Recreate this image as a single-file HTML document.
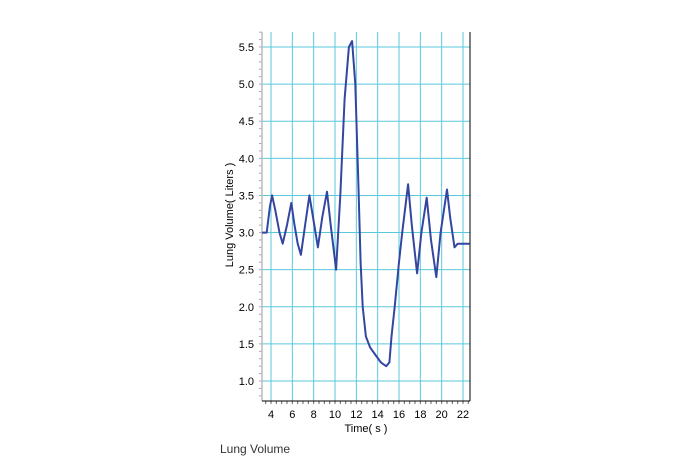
<!DOCTYPE html>
<html><head><meta charset="utf-8"><style>
html,body{margin:0;padding:0;background:#fff;}
svg{display:block;font-family:"Liberation Sans",sans-serif;}
</style></head><body>
<svg id="chart" width="690" height="460" viewBox="0 0 690 460">
<g id="grid"></g>
<g id="axes"></g>
<path id="line" fill="none" stroke="#3346a0" stroke-width="2" stroke-linejoin="round"/>
<text x="366" y="432" font-size="11" text-anchor="middle">Time( s )</text>
<text x="0" y="0" font-size="11" text-anchor="middle" transform="translate(233,215) rotate(-90)">Lung Volume( Liters )</text>
<text x="220" y="453" font-size="12" fill="#333">Lung Volume</text>
</svg>
<script>
const times=[3.16,3.6,3.9,4.1,4.4,4.8,5.1,5.5,5.9,6.2,6.5,6.8,7.2,7.6,8.0,8.4,8.8,9.25,9.6,10.1,10.5,10.9,11.3,11.6,11.9,12.2,12.4,12.6,12.9,13.3,13.8,14.3,14.8,15.1,15.3,15.6,16.0,16.3,16.85,17.2,17.7,18.1,18.6,19.0,19.5,19.9,20.5,20.8,21.2,21.5,22.65];
const volumes=[3.0,3.0,3.35,3.5,3.3,3.0,2.85,3.1,3.4,3.1,2.85,2.7,3.1,3.5,3.15,2.8,3.2,3.55,3.1,2.5,3.5,4.8,5.5,5.58,5.0,3.6,2.6,2.0,1.6,1.45,1.35,1.25,1.2,1.25,1.6,2.0,2.6,3.0,3.65,3.1,2.45,3.0,3.47,2.9,2.4,3.0,3.58,3.2,2.8,2.85,2.85];
const yTicks=[1.0,1.5,2.0,2.5,3.0,3.5,4.0,4.5,5.0,5.5];
const xTicks=[4,6,8,10,12,14,16,18,20,22];
const xTickLabels=["4","6","8","10","12","14","16","18","20","22"];
const L=262,R=470,T=32,B=401;
const X=t=>271+(t-4)*(192/18);
const Y=v=>381-(v-1)*(334/4.5);
const ns="http://www.w3.org/2000/svg";
const grid=document.getElementById('grid'),axes=document.getElementById('axes');
function mk(tag,attrs,parent){const e=document.createElementNS(ns,tag);for(const k in attrs)e.setAttribute(k,attrs[k]);parent.appendChild(e);return e;}
yTicks.forEach(v=>{
 const l=mk('line',{x1:L,x2:R,y1:Y(v),y2:Y(v),stroke:'#5ac8dc','stroke-width':1},grid);
 
 
 const t=mk('text',{x:L-8,y:Y(v)+4,'font-size':11,'text-anchor':'end'},axes);
 t.textContent=v.toFixed(1);
 
 
});
xTicks.forEach((v,i)=>{
 const l=mk('line',{x1:X(v),x2:X(v),y1:T,y2:B,stroke:'#5ac8dc','stroke-width':1},grid);
 
 
 const t=mk('text',{x:X(v),y:B+17,'font-size':11,'text-anchor':'middle'},axes);
 t.textContent=xTickLabels[i];
 
 
});
for(let v=0.8;v<=5.75;v+=0.1){const y=Y(v);if(y<T||y>B)continue;mk('line',{x1:L-3,x2:L,y1:y,y2:y,stroke:'#aaa'},axes);}
for(let t=3.5;t<=22.6;t+=0.5){mk('line',{x1:X(t),x2:X(t),y1:B,y2:B+3,stroke:'#666'},axes);}
mk('line',{x1:L,x2:L,y1:T,y2:B,stroke:'#bbb','stroke-width':1.5},axes);
mk('line',{x1:R,x2:R,y1:T,y2:B,stroke:'#000','stroke-width':1},axes);
mk('line',{x1:L,x2:R,y1:B,y2:B,stroke:'#000','stroke-width':1},axes);
document.getElementById('line').setAttribute('d',times.map((t,i)=>(i?'L':'M')+X(t).toFixed(1)+','+Y(volumes[i]).toFixed(1)).join(''));
</script>
</body></html>
